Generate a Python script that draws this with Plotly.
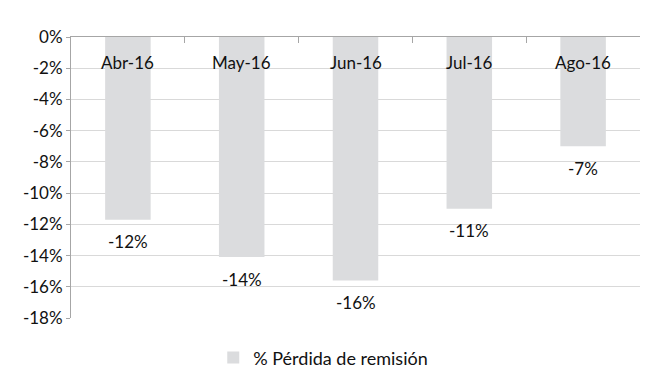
import plotly.graph_objects as go

categories = ["Abr-16", "May-16", "Jun-16", "Jul-16", "Ago-16"]
values = [-11.7, -14.1, -15.6, -11.0, -7.0]
series_name = "% Pérdida de remisión"
y_tickvals = [0, -2, -4, -6, -8, -10, -12, -14, -16, -18]
y_ticktext = ["0%", "-2%", "-4%", "-6%", "-8%", "-10%", "-12%", "-14%", "-16%", "-18%"]

labels = [f"-{round(abs(v))}%" for v in values]

FONT = "Lato"
TXT = "#111111"
FS = 17

fig = go.Figure()
fig.add_trace(go.Bar(
    x=categories, y=values, name=series_name,
    marker=dict(color="#DBDCDE", line=dict(width=0)),
    showlegend=True,
))

# category labels inside the plot, just under the top axis
for c in categories:
    fig.add_annotation(x=c, y=-1.65, xref="x", yref="y", text=c, showarrow=False,
                       font=dict(family=FONT, size=FS, color=TXT))
# data labels under each bar
for c, v, t in zip(categories, values, labels):
    fig.add_annotation(x=c, y=v, xref="x", yref="y", text=t, showarrow=False,
                       yanchor="middle", yshift=-22,
                       font=dict(family=FONT, size=FS, color=TXT))

fig.update_layout(
    width=670, height=375,
    margin=dict(l=71, r=30, t=37, b=57, autoexpand=False),
    paper_bgcolor="white", plot_bgcolor="white",
    bargap=0.6,
    font=dict(family=FONT, size=FS, color=TXT),
    showlegend=True,
    legend=dict(orientation="h", x=0.25, xanchor="left", xref="paper",
                y=-0.142, yanchor="middle", font=dict(family=FONT, size=18, color=TXT),
                itemwidth=30),
)
fig.update_xaxes(
    side="top", type="category", automargin=False,
    showline=True, linecolor="#A6A6A6", linewidth=1,
    ticks="inside", ticklen=6, tickcolor="#A6A6A6", tickson="boundaries",
    showticklabels=False,
    showgrid=False, zeroline=False, fixedrange=True,
)
fig.update_yaxes(
    range=[-18, 0], tickvals=y_tickvals, ticktext=y_ticktext, automargin=False,
    showline=True, linecolor="#A6A6A6", linewidth=1,
    ticks="outside", ticklen=4, tickcolor="#A6A6A6",
    showgrid=True, gridcolor="#D9D9D9", gridwidth=1,
    zeroline=False,
    tickfont=dict(family=FONT, size=FS, color=TXT),
)

fig.write_html("out.html", config={"displayModeBar": False},
               post_script="document.body.style.margin='0';")
